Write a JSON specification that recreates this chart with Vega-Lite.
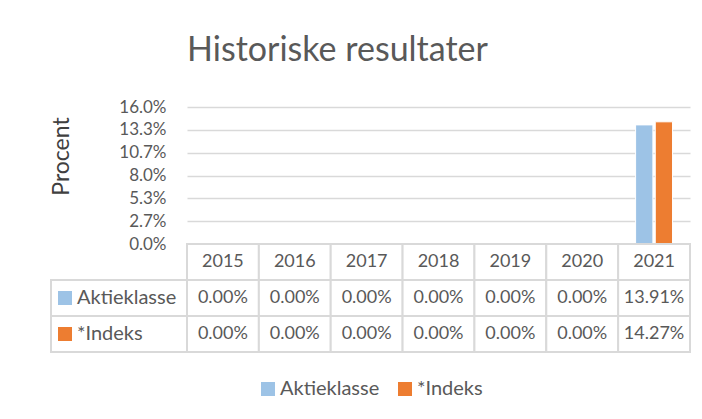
{
  "$schema": "https://vega.github.io/schema/vega-lite/v6.json",
  "background": "white",
  "padding": {"left": 50, "top": 34, "right": 10, "bottom": 10},
  "title": {
    "text": "Historiske resultater",
    "font": "Lato",
    "fontSize": 34,
    "fontWeight": "normal",
    "color": "#595959",
    "anchor": "middle",
    "dx": -33,
    "offset": 30
  },
  "datasets": {
    "vals": [
      {"series": "Aktieklasse", "year": "2015", "value": 0},
      {"series": "Aktieklasse", "year": "2016", "value": 0},
      {"series": "Aktieklasse", "year": "2017", "value": 0},
      {"series": "Aktieklasse", "year": "2018", "value": 0},
      {"series": "Aktieklasse", "year": "2019", "value": 0},
      {"series": "Aktieklasse", "year": "2020", "value": 0},
      {"series": "Aktieklasse", "year": "2021", "value": 0.1391},
      {"series": "*Indeks", "year": "2015", "value": 0},
      {"series": "*Indeks", "year": "2016", "value": 0},
      {"series": "*Indeks", "year": "2017", "value": 0},
      {"series": "*Indeks", "year": "2018", "value": 0},
      {"series": "*Indeks", "year": "2019", "value": 0},
      {"series": "*Indeks", "year": "2020", "value": 0},
      {"series": "*Indeks", "year": "2021", "value": 0.1427}
    ]
  },
  "columns": 2,
  "spacing": 0,
  "bounds": "flush",
  "resolve": {"scale": {"x": "independent", "y": "independent", "color": "shared"}},
  "concat": [
    {
      "width": 136,
      "height": 137,
      "data": {"values": [{}]},
      "mark": {"type": "point", "opacity": 0},
      "encoding": {}
    },
    {
      "width": 503,
      "height": 137,
      "data": {"name": "vals"},
      "mark": {"type": "bar", "stroke": "white", "strokeWidth": 1},
      "encoding": {
        "x": {
          "field": "year",
          "type": "nominal",
          "axis": null,
          "scale": {"paddingInner": 0.486, "paddingOuter": 0.243}
        },
        "xOffset": {
          "field": "series",
          "type": "nominal",
          "scale": {"domain": ["Aktieklasse", "*Indeks"], "paddingInner": 0.12, "paddingOuter": 0}
        },
        "y": {
          "field": "value",
          "type": "quantitative",
          "scale": {"domain": [0, 0.16], "nice": false},
          "axis": {
            "values": [0, 0.026667, 0.053333, 0.08, 0.106667, 0.133333, 0.16],
            "format": ".1%",
            "title": "Procent",
            "titleFont": "Lato",
            "titleFontSize": 23,
            "titleFontWeight": "normal",
            "titleColor": "#404040",
            "titlePadding": 45,
            "titleY": 49,
            "domain": false,
            "ticks": false,
            "labelFont": "Lato",
            "labelFontSize": 17,
            "labelColor": "#595959",
            "labelPadding": 21,
            "grid": true,
            "gridColor": "#d9d9d9",
            "gridWidth": 1.5
          }
        },
        "color": {
          "field": "series",
          "type": "nominal",
          "scale": {"domain": ["Aktieklasse", "*Indeks"], "range": ["#9dc3e6", "#ed7d31"]},
          "legend": {
            "orient": "bottom",
            "direction": "horizontal",
            "title": null,
            "symbolType": "square",
            "symbolSize": 196,
            "symbolStrokeWidth": 0,
            "labelFont": "Lato",
            "labelFontSize": 20,
            "labelColor": "#595959",
            "labelOffset": 2,
            "columnPadding": 15,
            "offset": 26
          }
        }
      }
    },
    {
      "width": 136,
      "height": 108,
      "data": {"name": "vals"},
      "transform": [{"filter": "datum.year == '2021'"}],
      "encoding": {
        "y": {
          "field": "series",
          "type": "nominal",
          "scale": {"domain": ["hdr", "Aktieklasse", "*Indeks"], "paddingInner": 0, "paddingOuter": 0},
          "axis": null
        }
      },
      "layer": [
        {"mark": {"type": "rect", "fill": "white", "stroke": "#d9d9d9", "strokeWidth": 2}},
        {
          "mark": {"type": "point", "shape": "square", "filled": true, "size": 196, "opacity": 1, "strokeWidth": 0, "xOffset": -54},
          "encoding": {
            "color": {
              "field": "series",
              "type": "nominal",
              "scale": {"domain": ["Aktieklasse", "*Indeks"], "range": ["#9dc3e6", "#ed7d31"]},
              "legend": {
                "orient": "bottom",
                "direction": "horizontal",
                "title": null,
                "symbolType": "square",
                "symbolSize": 196,
                "symbolStrokeWidth": 0,
                "labelFont": "Lato",
                "labelFontSize": 20,
                "labelColor": "#595959",
                "labelOffset": 2,
                "columnPadding": 15,
                "offset": 26
              }
            }
          }
        },
        {
          "mark": {"type": "text", "align": "left", "dx": -42, "font": "Lato", "fontSize": 20, "color": "#595959"},
          "encoding": {"text": {"field": "series", "type": "nominal"}}
        }
      ]
    },
    {
      "width": 503,
      "height": 108,
      "data": {"name": "vals"},
      "encoding": {
        "x": {
          "field": "year",
          "type": "nominal",
          "axis": null,
          "scale": {"paddingInner": 0, "paddingOuter": 0}
        }
      },
      "layer": [
        {
          "mark": {"type": "rect", "fill": "white", "stroke": "#d9d9d9", "strokeWidth": 2},
          "encoding": {
            "y": {
              "field": "series",
              "type": "nominal",
              "scale": {"domain": ["hdr", "Aktieklasse", "*Indeks"], "paddingInner": 0, "paddingOuter": 0},
              "axis": null
            }
          }
        },
        {
          "transform": [{"filter": "datum.series == 'Aktieklasse'"}],
          "mark": {"type": "rect", "fill": "white", "stroke": "#d9d9d9", "strokeWidth": 2},
          "encoding": {"y": {"datum": "hdr", "type": "nominal"}}
        },
        {
          "mark": {"type": "text", "font": "Lato", "fontSize": 18, "color": "#595959"},
          "encoding": {
            "y": {"field": "series", "type": "nominal"},
            "text": {"field": "value", "type": "quantitative", "format": ".2%"}
          }
        },
        {
          "transform": [{"filter": "datum.series == 'Aktieklasse'"}],
          "mark": {"type": "text", "font": "Lato", "fontSize": 18, "color": "#595959"},
          "encoding": {
            "y": {"datum": "hdr", "type": "nominal"},
            "text": {"field": "year", "type": "nominal"}
          }
        }
      ]
    }
  ],
  "config": {
    "view": {"stroke": null},
    "font": "Lato",
    "legend": {"layout": {"bottom": {"anchor": "middle"}}}
  }
}
